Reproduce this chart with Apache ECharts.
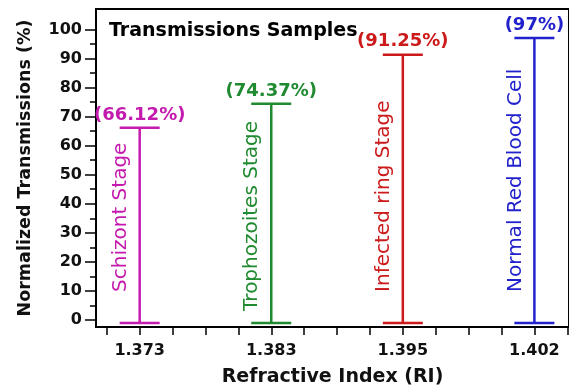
<!DOCTYPE html>
<html><head><meta charset="utf-8">
<script src="https://cdn.jsdelivr.net/npm/echarts@6/dist/echarts.min.js"></script>
<style>html,body{margin:0;padding:0;background:#fff}#c{width:569px;height:392px}</style>
</head><body><div id="c"></div>
<script>
const categories = ['1.373', '1.383', '1.395', '1.402'];
const stages = ['Schizont Stage', 'Trophozoites Stage', 'Infected ring Stage', 'Normal Red Blood Cell'];
const transmission = [66.12, 74.37, 91.25, 97];
const valueLabels = ['(66.12%)', '(74.37%)', '(91.25%)', '(97%)'];
const barBase = [-1, -1, -1, -1];
const yTickValues = [0, 10, 20, 30, 40, 50, 60, 70, 80, 90, 100];
const yMinorTickValues = [5, 15, 25, 35, 45, 55, 65, 75, 85, 95];
const xTickPositions = [-0.25, 0, 0.25, 0.5, 0.75, 1, 1.25, 1.5, 1.75, 2, 2.25, 2.5, 2.75, 3, 3.25];

// styling
const colors = ['#C41AAE', '#1F8A2F', '#CC1A1A', '#2222CC'];
const FONT = '"DejaVu Sans", sans-serif';
const STAGE_LABEL_GAP = [31, 12, 31, 31]; // px from bar bottom to label start

const chart = echarts.init(document.getElementById('c'), null, {renderer: 'canvas'});
const data = categories.map((c, i) => [i, transmission[i], barBase[i]]);

chart.setOption({
  animation: false,
  backgroundColor: '#fff',
  title: {
    text: 'Transmissions Samples', left: 104, top: 17,
    textStyle: {fontFamily: FONT, fontSize: 19, fontWeight: 'bold', color: '#000'}
  },
  grid: {left: 96, right: -4, top: 9, bottom: 65, show: true, borderColor: '#000', borderWidth: 2, backgroundColor: 'transparent'},
  xAxis: {
    type: 'value', min: -0.332, max: 3.263,
    name: 'Refractive Index (RI)', nameLocation: 'middle', nameGap: 41,
    nameTextStyle: {fontFamily: FONT, fontSize: 19, fontWeight: 'bold', color: '#111'},
    axisLine: {show: true, onZero: false, lineStyle: {color: '#000', width: 2}},
    axisTick: {show: true, inside: false, length: 8, lineStyle: {color: '#000', width: 1.5}, customValues: xTickPositions},
    axisLabel: {show: true, margin: 16, customValues: [0, 1, 2, 3], formatter: v => categories[Math.round(v)],
      fontFamily: FONT, fontSize: 16, fontWeight: 'bold', color: '#111'},
    splitLine: {show: false}
  },
  yAxis: [{
    type: 'value', min: -2.4, max: 107,
    name: 'Normalized Transmissions (%)', nameLocation: 'middle', nameGap: 62, nameRotate: 90,
    nameTextStyle: {fontFamily: FONT, fontSize: 17.5, fontWeight: 'bold', color: '#111'},
    axisLine: {show: true, onZero: false, lineStyle: {color: '#000', width: 2}},
    axisTick: {show: true, inside: false, length: 11, lineStyle: {color: '#000', width: 1.5}, customValues: yTickValues},
    axisLabel: {show: true, margin: 14, customValues: yTickValues, fontFamily: FONT, fontSize: 16, fontWeight: 'bold', color: '#111'},
    splitLine: {show: false}
  }, {
    type: 'value', min: -2.4, max: 107, position: 'left', offset: 0,
    axisLine: {show: false, onZero: false},
    axisTick: {show: true, inside: false, length: 6, lineStyle: {color: '#000', width: 1.5}, customValues: yMinorTickValues},
    axisLabel: {show: false},
    splitLine: {show: false}
  }],
  series: [{
    type: 'custom',
    data: data,
    encode: {x: 0, y: [1, 2]},
    clip: false,
    renderItem: function (params, api) {
      const k = params.dataIndex;
      const i = api.value(0);
      const top = api.coord([i, api.value(1)]);
      const bot = api.coord([i, api.value(2)]);
      const col = colors[k];
      const cap = 20;
      const ls = {stroke: col, lineWidth: 2.5};
      return {
        type: 'group',
        children: [
          {type: 'line', shape: {x1: top[0], y1: top[1], x2: bot[0], y2: bot[1]}, style: ls},
          {type: 'line', shape: {x1: top[0] - cap, y1: top[1], x2: top[0] + cap, y2: top[1]}, style: ls},
          {type: 'line', shape: {x1: bot[0] - cap, y1: bot[1], x2: bot[0] + cap, y2: bot[1]}, style: ls},
          {type: 'text', x: top[0], y: top[1] - 13,
            style: {text: valueLabels[k], fill: col, font: 'bold 18px ' + FONT, textAlign: 'center', textVerticalAlign: 'middle'}},
          {type: 'text', x: top[0] - 19, y: bot[1] - STAGE_LABEL_GAP[k], rotation: Math.PI / 2,
            style: {text: stages[k], fill: col, font: '20px ' + FONT, textAlign: 'left', textVerticalAlign: 'middle'}}
        ]
      };
    }
  }]
});
</script></body></html>
